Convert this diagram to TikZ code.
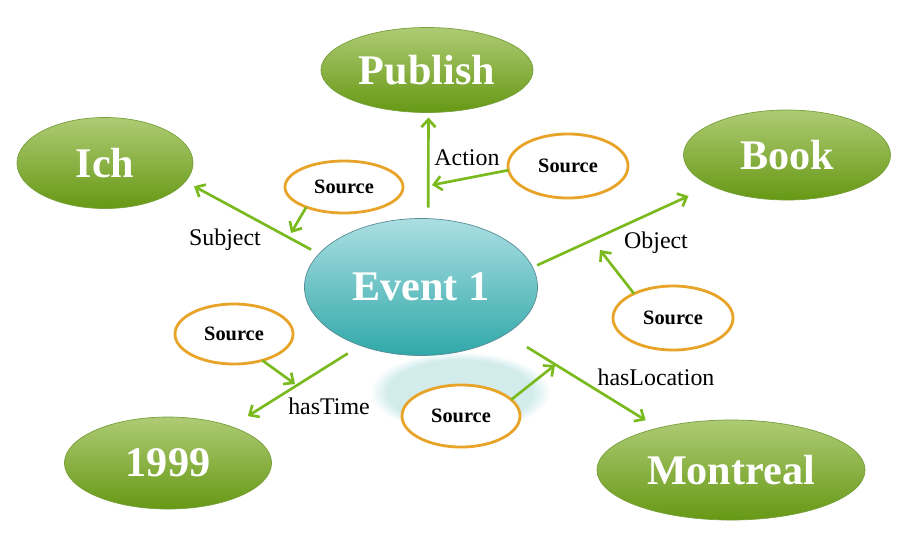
\documentclass[tikz,border=0pt]{standalone}
\usepackage{fontspec}
\setmainfont{Liberation Serif}
\usetikzlibrary{shapes.geometric,arrows.meta,fadings}
\definecolor{leafTop}{RGB}{174,203,116}
\definecolor{leafBot}{RGB}{102,152,20}
\definecolor{leafEdge}{RGB}{120,160,60}
\definecolor{seaTop}{RGB}{172,223,227}
\definecolor{seaBot}{RGB}{48,168,168}
\definecolor{seaEdge}{RGB}{90,140,150}
\definecolor{grass}{RGB}{122,186,30}
\definecolor{amber}{RGB}{232,164,40}
\begin{document}
\begin{tikzpicture}[x=0.025cm, y=-0.025cm, >={Straight Barb[length=5.5pt,width=10pt]},
    concept/.style={ellipse, inner sep=0pt, outer sep=0pt, top color=leafTop, bottom color=leafBot,
        draw=leafEdge, line width=0.5pt, text=white, font=\fontsize{30}{36}\selectfont\bfseries},
    event/.style={concept, top color=seaTop, bottom color=seaBot, draw=seaEdge},
    source/.style={ellipse, inner sep=0pt, outer sep=0pt, draw=amber, line width=2pt, fill=white,
        font=\fontsize{14.5}{17}\selectfont\bfseries},
    rel/.style={->, draw=grass, line width=1.9pt},
    lbl/.style={font=\fontsize{17}{20}\selectfont}]
    \useasboundingbox (0,0) rectangle (900,535);

    % reflection below the event
    \fill[seaBot, opacity=0.22, path fading=circle with fuzzy edge 20 percent] (460,392) ellipse (90 and 40);

    % concepts
    \node[concept, minimum width=5.3cm, minimum height=2.125cm] (publish) at (427,70) {Publish};
    \node[concept, minimum width=4.4cm, minimum height=2.275cm] (ich) at (105,163) {Ich};
    \node[concept, minimum width=5.175cm, minimum height=2.25cm] (book) at (787,155) {Book};
    \node[event, minimum width=5.825cm, minimum height=3.425cm] (event) at (421,287) {Event 1};
    \node[concept, minimum width=5.175cm, minimum height=2.3cm] (year) at (168,463) {1999};
    \node[concept, minimum width=6.7cm, minimum height=2.5cm] (montreal) at (731,470) {Montreal};

    % relations
    \draw[rel, shorten <=6.4pt, shorten >=7pt] (event.162) -- (ich.347);
    \draw[rel, shorten <=7.8pt, shorten >=3.5pt] (event.84) -- (publish.272);
    \draw[rel, shorten <=3.5pt, shorten >=17.7pt] (event.10) -- (book.202);
    \draw[rel, shorten <=10.6pt, shorten >=14pt] (event.224) -- (year.30);
    \draw[rel, shorten <=17.7pt, shorten >=10.5pt] (event.331) -- (montreal.150);

    \node[lbl] (subjLbl) at (225,240) {Subject};
    \node[lbl] (actionLbl) at (467,158) {Action};
    \node[lbl] (objLbl) at (656,243) {Object};
    \node[lbl] (timeLbl) at (329,406) {hasTime};
    \node[lbl] (locLbl) at (656,377) {hasLocation};

    % sources
    \node[source, minimum width=2.95cm, minimum height=1.3cm] (srcSubj) at (344,187) {Source};
    \node[source, minimum width=3cm, minimum height=1.6cm] (srcAction) at (568,166) {Source};
    \node[source, minimum width=2.95cm, minimum height=1.5cm] (srcTime) at (234,334) {Source};
    \node[source, minimum width=3cm, minimum height=1.6cm] (srcObj) at (673,318) {Source};
    \node[source, minimum width=2.95cm, minimum height=1.55cm] (srcLoc) at (461,416) {Source};

    \coordinate (subjTip) at (291,233);
    \coordinate (actionTip) at (432,185);
    \coordinate (timeTip) at (295,384);
    \coordinate (objTip) at (600,250);
    \coordinate (locTip) at (555,365);

    \draw[rel] (srcSubj.208) -- (subjTip);
    \draw[rel] (srcAction.184) -- (actionTip);
    \draw[rel] (srcTime.317) -- (timeTip);
    \draw[rel] (srcObj.148) -- (objTip);
    \draw[rel] (srcLoc.18) -- (locTip);
\end{tikzpicture}
\end{document}
